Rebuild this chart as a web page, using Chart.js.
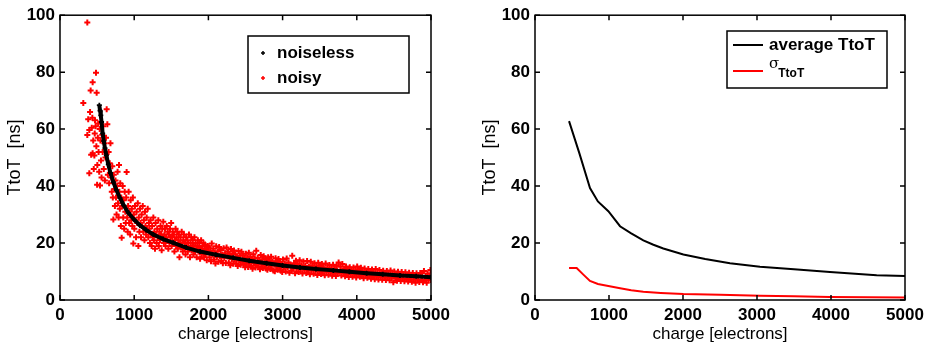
<!DOCTYPE html>
<html>
<head>
<meta charset="utf-8">
<script src="https://cdn.jsdelivr.net/npm/chart.js@4"></script>
<style>
  body { margin: 0; background: #fff; }
  .wrap { display: flex; width: 934px; height: 351px; }
  canvas { display: block; }
</style>
</head>
<body>
<div class="wrap">
  <canvas id="leftChart" width="467" height="351"></canvas>
  <canvas id="rightChart" width="467" height="351"></canvas>
</div>
<script>
// axis ticks (both panels)
var xTicks = [0, 1000, 2000, 3000, 4000, 5000];
var yTicks = [0, 20, 40, 60, 80, 100];

// left panel: noiseless TtoT vs charge [charge, TtoT]
var noiselessPoints = [
  [530, 68.4], [540, 66.5], [550, 64.8], [560, 62.5], [575, 58.5], [590, 55.8], [606, 53.3],
  [625, 50.8], [651, 47.6], [680, 44.6], [719, 41.4], [760, 38.6], [809, 35.8], [860, 33.2],
  [921, 30.6], [1000, 28.2], [1078, 26.2], [1160, 24.6], [1258, 23.0], [1390, 21.4], [1527, 20.1],
  [1700, 18.4], [1887, 17.0], [2100, 15.9], [2336, 14.8], [2550, 13.8], [2785, 12.9], [3000, 12.1],
  [3234, 11.4], [3450, 10.9], [3684, 10.4], [3900, 9.9], [4133, 9.4], [4350, 9.0], [4582, 8.6],
  [4800, 8.3], [5000, 8.0]
];

// left panel: noisy TtoT vs charge [charge, TtoT]
var noisyPoints = [
  [314, 69.2], [368, 97.4], [368, 57.9], [380, 63.5], [395, 59.7], [395, 44.5], [405, 66], [413, 73.6],
  [420, 51], [428, 60.5], [436, 64], [440, 76.5], [440, 51.5], [448, 56], [455, 46], [463, 50.7],
  [468, 58.5], [472, 63.1], [480, 61], [485, 79.8], [490, 54], [494, 72.8], [500, 40.5], [503, 47.4],
  [510, 57], [515, 62], [520, 52], [528, 45], [535, 60], [539, 40.2], [545, 56], [552, 49], [560, 43],
  [568, 58], [575, 52], [582, 61], [590, 46], [598, 55], [605, 42], [612, 50], [620, 57], [629, 67],
  [638, 61.7], [645, 44], [655, 52], [662, 41], [670, 48], [680, 55], [690, 43], [698, 38],
  [705, 47], [712, 36], [719, 28.3], [725, 44], [732, 39], [740, 33], [748, 42], [755, 36], [762, 30],
  [770, 40], [776, 45], [782, 34], [790, 29], [795, 47.4], [800, 38], [806, 32], [812, 41], [820, 26],
  [826, 36], [831, 21.9], [838, 33], [845, 40], [852, 29], [858, 35], [865, 25], [872, 38], [880, 31],
  [886, 27], [892, 36], [898, 44.9], [905, 29], [912, 24], [918, 33], [925, 38], [932, 27], [940, 31],
  [946, 23], [952, 35], [960, 28], [968, 32], [975, 26], [982, 36], [988, 19.8], [995, 30], [1002, 25],
  [1010, 33], [1018, 28], [1025, 22], [1032, 31], [1040, 27], [1048, 34], [1056, 19], [1062, 29],
  [1070, 24], [1078, 32], [1085, 27], [1092, 22], [1100, 30], [1108, 26], [1115, 33], [1122, 24],
  [1130, 28], [1138, 21], [1145, 31], [1152, 26], [1160, 23], [1168, 29], [1175, 25], [1182, 32],
  [1190, 22], [1198, 27],
  [1205, 25], [1212, 20], [1220, 28], [1228, 23], [1235, 19], [1242, 26], [1250, 22], [1258, 29],
  [1265, 21], [1272, 24], [1280, 18], [1288, 27], [1295, 23], [1302, 20], [1310, 25], [1318, 22],
  [1325, 28], [1332, 19], [1340, 24], [1348, 21], [1355, 26], [1362, 23], [1370, 17.5], [1378, 25],
  [1385, 22], [1392, 27.5], [1400, 20], [1408, 23], [1415, 25], [1422, 19], [1430, 22], [1438, 26],
  [1445, 21], [1452, 24], [1460, 18], [1468, 23], [1475, 20], [1482, 25], [1490, 22], [1498, 27],
  [1505, 19], [1512, 22], [1520, 24], [1528, 20], [1535, 23], [1542, 17], [1550, 21], [1558, 25],
  [1565, 19], [1572, 22], [1580, 24], [1588, 18], [1595, 21], [1602, 23], [1610, 15], [1618, 20],
  [1625, 22], [1632, 18.5], [1640, 24], [1648, 20], [1655, 17], [1662, 21], [1670, 23], [1678, 18],
  [1685, 20], [1692, 16], [1700, 22], [1708, 19], [1715, 21], [1722, 17], [1730, 20], [1738, 23],
  [1745, 18], [1752, 15], [1760, 20], [1768, 22], [1775, 17.5], [1782, 19], [1790, 21], [1798, 16],
  [1805, 19], [1812, 22], [1820, 17], [1828, 20], [1835, 18], [1842, 15], [1850, 19], [1858, 21],
  [1865, 17], [1872, 18.5], [1880, 20], [1888, 14.5], [1895, 18], [1902, 21], [1910, 16], [1918, 19],
  [1925, 17], [1932, 20], [1940, 15], [1948, 18], [1955, 19.5], [1962, 16], [1970, 18], [1978, 14],
  [1985, 17], [1992, 19],
  [2005, 18.5], [2015, 15], [2025, 17.2], [2035, 13.6], [2045, 19.8], [2055, 16], [2065, 18], [2075, 14.2],
  [2085, 16.6], [2095, 12.8], [2105, 18.9], [2115, 15.2], [2125, 17.1], [2135, 13.4], [2145, 18.6],
  [2155, 15.4], [2165, 17.6], [2175, 13.8], [2185, 16], [2195, 12.9], [2205, 18.2], [2215, 14.8],
  [2225, 16.4], [2235, 13], [2245, 18.4], [2255, 15.3], [2265, 17], [2275, 13.2], [2285, 15.8],
  [2295, 12.2], [2305, 17.9], [2315, 14.4], [2325, 16.3], [2335, 12.7], [2345, 17.4], [2355, 14.2],
  [2365, 16.1], [2375, 12.9], [2385, 15.2], [2395, 11.9], [2405, 17.2], [2415, 13.8], [2425, 15.5],
  [2435, 12.4], [2445, 16.9], [2455, 13.6], [2465, 15.7], [2475, 12.5], [2485, 14.6], [2495, 11.5],
  [2505, 16.2], [2515, 13], [2525, 14.9], [2535, 11.6], [2545, 16.6], [2555, 13.2], [2565, 15.2],
  [2575, 12], [2585, 14.2], [2595, 11], [2605, 16.1], [2615, 12.8], [2625, 14.7], [2635, 11.4],
  [2645, 17.3], [2655, 12.6], [2665, 14.8], [2675, 11.8], [2685, 13.8], [2695, 10.8], [2705, 15.8],
  [2715, 12.5], [2725, 14.2], [2735, 11.2], [2745, 15.4], [2755, 12.3], [2765, 14.6], [2775, 11.1],
  [2785, 13.6], [2795, 10.6], [2805, 15], [2815, 12], [2825, 13.9], [2835, 10.9], [2845, 15.2],
  [2855, 12.2], [2865, 13.5], [2875, 10.4], [2885, 12.9], [2895, 10.1], [2905, 14.7], [2915, 11.7],
  [2925, 13.3], [2935, 10.6], [2945, 14.4], [2955, 11.5], [2965, 13.2], [2975, 10.3], [2985, 12.6],
  [2995, 9.8],
  [3005, 14.2], [3018, 11.3], [3030, 12.8], [3042, 10], [3055, 14.6], [3068, 11.4], [3080, 13.2],
  [3092, 9.6], [3105, 12.4], [3118, 10.3], [3130, 15.5], [3142, 11], [3155, 12.9], [3168, 9.4],
  [3180, 13.8], [3192, 11.2], [3205, 12.6], [3218, 9.8], [3230, 14], [3242, 10.8], [3255, 12.2],
  [3268, 9.3], [3280, 13.5], [3292, 10.6], [3305, 12], [3318, 9.5], [3330, 13.7], [3342, 10.9],
  [3355, 11.8], [3368, 9], [3380, 13.4], [3392, 10.4], [3405, 12.1], [3418, 9.2], [3430, 12.9],
  [3442, 10.5], [3455, 11.6], [3468, 8.8], [3480, 13.1], [3492, 10.2], [3505, 11.9], [3518, 9.1],
  [3530, 12.6], [3542, 10], [3555, 11.4], [3568, 8.7], [3580, 12.8], [3592, 9.9], [3605, 11.3],
  [3618, 8.9], [3630, 12.3], [3642, 9.8], [3655, 11.1], [3668, 8.5], [3680, 12.4], [3692, 9.6],
  [3705, 10.9], [3718, 8.4], [3730, 12], [3742, 9.4], [3755, 13.2], [3768, 9.9], [3780, 11.7],
  [3792, 8.6], [3805, 12.6], [3818, 9.5], [3830, 11], [3842, 8.3], [3855, 11.8], [3868, 9.2],
  [3880, 10.7], [3892, 8.1], [3905, 11.5], [3918, 9.1], [3930, 10.5], [3942, 8.2], [3955, 11.4],
  [3968, 8.9], [3980, 10.3], [3992, 7.9],
  [4005, 11.8], [4018, 9.1], [4030, 10.6], [4042, 8.2], [4055, 11.3], [4068, 8.8], [4080, 10.2],
  [4092, 7.6], [4105, 11.1], [4118, 8.6], [4130, 10], [4142, 7.8], [4155, 10.9], [4168, 8.5],
  [4180, 9.8], [4192, 7.5], [4205, 10.7], [4218, 8.4], [4230, 9.6], [4242, 7.3], [4255, 10.9],
  [4268, 8.2], [4280, 9.5], [4292, 7.2], [4305, 10.5], [4318, 8.1], [4330, 9.3], [4342, 7.1],
  [4355, 10.3], [4368, 8], [4380, 9.2], [4392, 7], [4405, 10.2], [4418, 7.9], [4430, 9.1], [4442, 6.9],
  [4455, 10.4], [4468, 7.8], [4480, 9], [4492, 6.2], [4505, 10], [4518, 7.7], [4530, 8.9], [4542, 6.8],
  [4555, 9.9], [4568, 7.6], [4580, 8.8], [4592, 6.7], [4605, 9.8], [4618, 7.5], [4630, 8.7], [4642, 6.6],
  [4655, 9.7], [4668, 7.4], [4680, 8.6], [4692, 6.5], [4705, 9.6], [4718, 7.3], [4730, 8.5], [4742, 6.4],
  [4755, 9.5], [4768, 7.2], [4780, 8.4], [4792, 6.1], [4805, 9.4], [4818, 7.1], [4830, 8.3], [4842, 6.3],
  [4855, 9.5], [4868, 7], [4880, 8.2], [4892, 6.2], [4905, 10.2], [4918, 7], [4930, 8.1], [4942, 6.1],
  [4955, 9.3], [4968, 7.2], [4980, 8.4], [4992, 10.5], [4998, 7]
];

// right panel: average TtoT and sigma vs charge
var avgCharge = [460, 600, 743, 850, 991, 1149, 1300, 1464, 1600, 1734, 2005, 2300, 2635, 3040, 3500, 3986, 4617, 5000];
var avgTtoT   = [62.8, 51.5, 39.3, 34.6, 31.2, 25.9, 23.4, 20.9, 19.4, 18.1, 16.0, 14.4, 12.9, 11.7, 10.8, 9.8, 8.7, 8.4];
var sigmaCharge = [460, 563, 650, 743, 850, 991, 1150, 1300, 1464, 1700, 2005, 2500, 3040, 3500, 3986, 4500, 5000];
var sigmaTtoT   = [11.2, 11.2, 9.0, 6.7, 5.6, 4.9, 4.1, 3.4, 2.9, 2.5, 2.1, 1.8, 1.5, 1.3, 1.05, 0.95, 0.9];

var FONT = '"Liberation Sans", Arial, Helvetica, sans-serif';
Chart.defaults.font.family = FONT;
Chart.defaults.color = '#000';

function toXY(pairs) {
    return pairs.map(function (p) { return { x: p[0], y: p[1] }; });
}
function zipXY(xs, ys) {
    return xs.map(function (v, i) { return { x: v, y: ys[i] }; });
}

// box round the plot, with ticks pointing inward on all four sides
var frameTicks = {
    id: 'frameTicks',
    afterDatasetsDraw: function (chart) {
        var ctx = chart.ctx, a = chart.chartArea, sx = chart.scales.x, sy = chart.scales.y;
        ctx.save();
        ctx.strokeStyle = '#000';
        ctx.lineWidth = 1.5;
        ctx.strokeRect(a.left, a.top, a.right - a.left, a.bottom - a.top);
        ctx.beginPath();
        xTicks.forEach(function (v) {
            var px = sx.getPixelForValue(v);
            ctx.moveTo(px, a.bottom); ctx.lineTo(px, a.bottom - 5);
            ctx.moveTo(px, a.top); ctx.lineTo(px, a.top + 5);
        });
        yTicks.forEach(function (v) {
            var py = sy.getPixelForValue(v);
            ctx.moveTo(a.left, py); ctx.lineTo(a.left + 5, py);
            ctx.moveTo(a.right, py); ctx.lineTo(a.right - 5, py);
        });
        ctx.stroke();
        ctx.restore();
    }
};

// legend boxes drawn inside the plot, like the matlab figure
var boxLegend = {
    id: 'boxLegend',
    afterDraw: function (chart, args, opts) {
        var ctx = chart.ctx, b = opts.box;
        ctx.save();
        ctx.fillStyle = '#fff';
        ctx.fillRect(b[0], b[1], b[2], b[3]);
        ctx.strokeStyle = '#000';
        ctx.lineWidth = 1.5;
        ctx.strokeRect(b[0], b[1], b[2], b[3]);
        ctx.textBaseline = 'middle';
        opts.items.forEach(function (it) {
            ctx.strokeStyle = it.color;
            ctx.fillStyle = '#000';
            if (it.kind === 'marker') {
                ctx.lineWidth = 1.5;
                ctx.beginPath();
                ctx.moveTo(it.mx - 2, it.y); ctx.lineTo(it.mx + 2, it.y);
                ctx.moveTo(it.mx, it.y - 2); ctx.lineTo(it.mx, it.y + 2);
                ctx.stroke();
            } else {
                ctx.lineWidth = 2;
                ctx.beginPath();
                ctx.moveTo(it.mx, it.y); ctx.lineTo(it.mx2, it.y);
                ctx.stroke();
            }
            ctx.font = 'bold 17px ' + FONT;
            if (it.sub) {
                ctx.font = '15px "DejaVu Serif", serif';
                ctx.fillText(it.text, it.tx, it.y - 7);
                var w = ctx.measureText(it.text).width;
                ctx.font = 'bold 12px ' + FONT;
                ctx.fillText(it.sub, it.tx + w - 1, it.y + 3);
            } else {
                ctx.fillText(it.text, it.tx, it.y);
            }
        });
        ctx.restore();
    }
};

function plainTick(v) { return String(v); }

function axes() {
    return {
        x: {
            type: 'linear', min: 0, max: 5000,
            afterFit: function (s) { s.height = 51; },
            afterBuildTicks: function (s) { s.ticks = xTicks.map(function (v) { return { value: v }; }); },
            grid: { display: false, drawTicks: false },
            border: { display: false },
            ticks: { padding: 5, maxRotation: 0, callback: plainTick, font: { size: 17, weight: 'bold' } },
            title: { display: true, text: 'charge [electrons]', font: { size: 17 }, padding: { top: 0, bottom: 6 } }
        },
        y: {
            type: 'linear', min: 0, max: 100,
            afterFit: function (s) { s.width = 60; },
            afterBuildTicks: function (s) { s.ticks = yTicks.map(function (v) { return { value: v }; }); },
            grid: { display: false, drawTicks: false },
            border: { display: false },
            ticks: { padding: 5, callback: plainTick, font: { size: 17, weight: 'bold' } },
            title: { display: true, text: 'TtoT  [ns]', font: { size: 18 }, padding: { top: 4, bottom: 0 } }
        }
    };
}

new Chart(document.getElementById('leftChart'), {
    type: 'scatter',
    data: {
        datasets: [
            {
                label: 'noiseless',
                data: toXY(noiselessPoints),
                showLine: true,
                borderColor: '#000',
                borderWidth: 4,
                pointStyle: 'cross',
                pointRadius: 2.5,
                pointBorderWidth: 1.8,
                pointBorderColor: '#000'
            },
            {
                label: 'noisy',
                data: toXY(noisyPoints),
                pointStyle: 'cross',
                pointRadius: 3,
                pointBorderWidth: 2,
                pointBorderColor: '#ff0000',
                pointBackgroundColor: '#ff0000'
            }
        ]
    },
    options: {
        responsive: false,
        animation: false,
        layout: { padding: { top: 13, right: 36, left: 0, bottom: 0 } },
        scales: axes(),
        plugins: {
            legend: { display: false },
            tooltip: { enabled: false },
            boxLegend: {
                box: [248, 36, 161, 57],
                items: [
                    { kind: 'marker', color: '#000', mx: 263, y: 53, tx: 277, text: 'noiseless' },
                    { kind: 'marker', color: '#ff0000', mx: 263, y: 78, tx: 277, text: 'noisy' }
                ]
            }
        }
    },
    plugins: [frameTicks, boxLegend]
});

new Chart(document.getElementById('rightChart'), {
    type: 'line',
    data: {
        datasets: [
            {
                label: 'average TtoT',
                data: zipXY(avgCharge, avgTtoT),
                borderColor: '#000',
                borderWidth: 2,
                pointRadius: 0,
                tension: 0
            },
            {
                label: 'σTtoT',
                data: zipXY(sigmaCharge, sigmaTtoT),
                borderColor: '#ff0000',
                borderWidth: 2,
                pointRadius: 0,
                tension: 0
            }
        ]
    },
    options: {
        responsive: false,
        animation: false,
        layout: { padding: { top: 13, right: 29, left: 8, bottom: 0 } },
        scales: axes(),
        plugins: {
            legend: { display: false },
            tooltip: { enabled: false },
            boxLegend: {
                box: [260, 31, 160, 57],
                items: [
                    { kind: 'line', color: '#000', mx: 266, mx2: 296, y: 45, tx: 302, text: 'average TtoT' },
                    { kind: 'line', color: '#ff0000', mx: 266, mx2: 296, y: 71, tx: 302, text: 'σ', sub: 'TtoT' }
                ]
            }
        }
    },
    plugins: [frameTicks, boxLegend]
});
</script>
</body>
</html>
